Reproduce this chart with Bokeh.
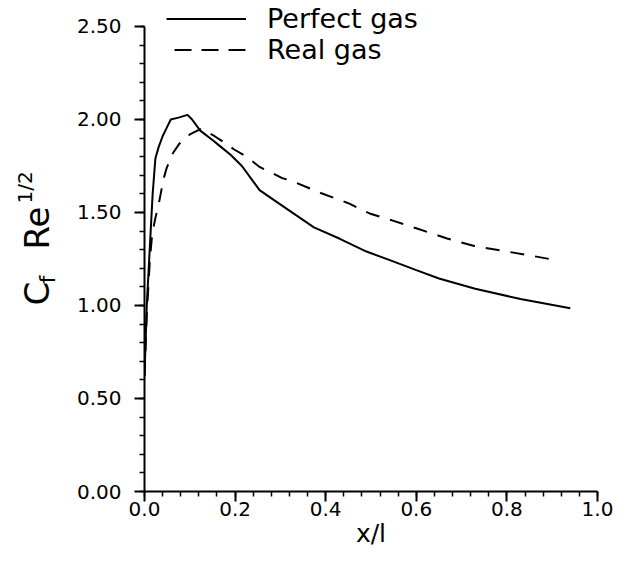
from math import pi
from bokeh.plotting import figure
from bokeh.layouts import row
from bokeh.models import Range1d, FixedTicker, Legend, LegendItem, Label
from bokeh.embed import file_html
from bokeh.resources import INLINE

# ---- data ----
perfect_x = [0.0, 0.005, 0.013, 0.018, 0.024, 0.031, 0.040, 0.050, 0.058, 0.075, 0.095,
             0.105, 0.123, 0.150, 0.170, 0.190, 0.215, 0.254, 0.290, 0.332, 0.374, 0.430,
             0.490, 0.540, 0.600, 0.650, 0.730, 0.830, 0.940]
perfect_y = [0.62, 1.00, 1.37, 1.60, 1.79, 1.85, 1.91, 1.96, 2.00, 2.01, 2.025,
             2.00, 1.94, 1.89, 1.85, 1.81, 1.75, 1.62, 1.56, 1.49, 1.42, 1.36,
             1.29, 1.245, 1.19, 1.145, 1.09, 1.035, 0.985]

real_x = [0.0, 0.005, 0.012, 0.017, 0.024, 0.031, 0.042, 0.049, 0.063, 0.077, 0.100,
          0.125, 0.155, 0.180, 0.197, 0.225, 0.254, 0.275, 0.304, 0.325, 0.389, 0.450,
          0.497, 0.550, 0.600, 0.668, 0.728, 0.788, 0.849, 0.905]
real_y = [0.62, 0.95, 1.25, 1.385, 1.47, 1.54, 1.68, 1.74, 1.82, 1.87, 1.92,
          1.95, 1.91, 1.87, 1.84, 1.80, 1.745, 1.72, 1.685, 1.67, 1.605, 1.55,
          1.495, 1.455, 1.415, 1.36, 1.32, 1.295, 1.27, 1.245]

series_names = ["Perfect gas", "Real gas"]

x_ticks = [0.0, 0.2, 0.4, 0.6, 0.8, 1.0]
x_tick_labels = ["0.0", "0.2", "0.4", "0.6", "0.8", "1.0"]
x_minor = [round(0.04 * i, 2) for i in range(26)]

y_ticks = [0.0, 0.5, 1.0, 1.5, 2.0, 2.5]
y_tick_labels = ["0.00", "0.50", "1.00", "1.50", "2.00", "2.50"]
y_minor = [round(0.1 * i, 1) for i in range(26)]

x_label = "x/l"
y_label_parts = ["C", "f", "Re", "1/2"]

FONT = "DejaVu Sans"
TOTAL_H = 553
LAB_W = 72

# ---- main plot ----
p = figure(frame_width=453, frame_height=489,
           min_border_left=72, min_border_right=17,
           min_border_top=2, min_border_bottom=62,
           x_range=Range1d(0, 1.0), y_range=Range1d(0, 2.629),
           output_backend="svg", toolbar_location=None,
           background_fill_color="white", border_fill_color="white")
p.outline_line_color = None
p.grid.visible = False

for ax in (p.xaxis[0], p.yaxis[0]):
    ax.axis_line_width = 2
    ax.axis_line_color = "black"
    ax.major_tick_line_width = 2
    ax.minor_tick_line_width = 1.5
    ax.major_tick_line_color = "black"
    ax.minor_tick_line_color = "black"
    ax.major_tick_in = 0
    ax.major_tick_out = 10
    ax.minor_tick_in = 0
    ax.minor_tick_out = 5
    ax.major_label_text_font = FONT
    ax.major_label_text_font_size = "20px"
    ax.major_label_text_color = "black"

p.xaxis.bounds = (0, 1.0)
p.yaxis.bounds = (0, 2.5)
p.xaxis.ticker = FixedTicker(ticks=x_ticks, minor_ticks=x_minor)
p.yaxis.ticker = FixedTicker(ticks=y_ticks, minor_ticks=y_minor)
p.xaxis.major_label_overrides = {t: l for t, l in zip(x_ticks, x_tick_labels)}
p.yaxis.major_label_overrides = {t: l for t, l in zip(y_ticks, y_tick_labels)}
p.xaxis.major_label_standoff = 0
p.yaxis.major_label_standoff = 13

p.xaxis.axis_label = x_label
p.xaxis.axis_label_text_font = FONT
p.xaxis.axis_label_text_font_size = "25px"
p.xaxis.axis_label_text_font_style = "normal"
p.xaxis.axis_label_text_color = "black"
p.xaxis.axis_label_standoff = 0

# curves
p.line(perfect_x, perfect_y, line_width=2, line_color="black")
p.line(real_x, real_y, line_width=2, line_color="black", line_dash="14 11")

# legend sample glyphs (data kept outside the visible ranges)
r1 = p.line([-2, -1], [-2, -2], line_width=2, line_color="black")
r2 = p.line([-2, -1], [-2, -2], line_width=2, line_color="black",
            line_dash="17 10", line_dash_offset=19)
legend = Legend(items=[LegendItem(label=series_names[0], renderers=[r1]),
                       LegendItem(label=series_names[1], renderers=[r2])],
                location=(22, 426), orientation="vertical",
                border_line_color=None, background_fill_alpha=0,
                padding=0, margin=0, spacing=0,
                glyph_width=80, glyph_height=31, label_height=31,
                label_standoff=21, label_text_font=FONT,
                label_text_font_size="27px", label_text_color="black")
p.add_layout(legend)

# ---- rotated y-axis title (C_f Re^1/2) in its own narrow panel ----
lab = figure(title=None, frame_width=LAB_W, frame_height=TOTAL_H,
             x_range=Range1d(0, LAB_W), y_range=Range1d(0, TOTAL_H),
             x_axis_type=None, y_axis_type=None, min_border=0,
             output_backend="svg", toolbar_location=None,
             background_fill_color="white", border_fill_color="white")
lab.outline_line_color = None
parts = [
    (y_label_parts[0], 36, 250, "34px"),
    (y_label_parts[1], 47, 272, "22px"),
    (y_label_parts[2], 36, 306, "34px"),
    (y_label_parts[3], 24, 352, "20px"),
]
for txt, lx, ly, fs in parts:
    lab.add_layout(Label(x=lx, y=ly, text=txt, angle=pi / 2,
                         text_align="left", text_baseline="middle",
                         text_font=FONT, text_font_size=fs, text_color="black"))

layout = row(lab, p)
open("out.html", "w").write(file_html(layout, INLINE))
